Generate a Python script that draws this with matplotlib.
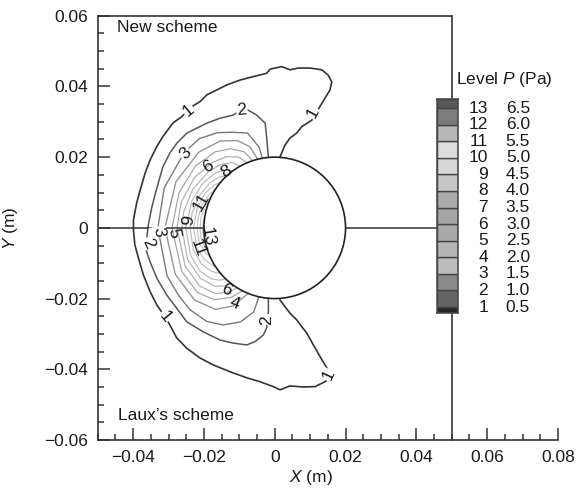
import numpy as np
import matplotlib
matplotlib.use("Agg")
import matplotlib.pyplot as plt
from matplotlib.patches import Circle
from matplotlib.ticker import MultipleLocator, FuncFormatter

plt.rcParams["font.family"] = ["Liberation Sans", "DejaVu Sans"]
plt.rcParams["mathtext.fontset"] = "custom"
plt.rcParams["mathtext.it"] = "Liberation Sans:italic"
plt.rcParams["mathtext.rm"] = "Liberation Sans"

# cylinder radius (m)
cyl_r = 0.02

# contour level 1 and 2 (x, y in m)
lev1_pts = [(0.0015, 0.0201), (0.0029, 0.0234), (0.0043, 0.0254), (0.0062, 0.0268),
            (0.0076, 0.0286), (0.0105, 0.0305), (0.0119, 0.0329), (0.0136, 0.0357),
            (0.0156, 0.0390), (0.0161, 0.0413), (0.0151, 0.0432), (0.0133, 0.0447),
            (0.0100, 0.0452), (0.0066, 0.0452), (0.0043, 0.0447), (0.0020, 0.0456),
            (-0.0013, 0.0449), (-0.0023, 0.0437), (-0.0060, 0.0428), (-0.0098, 0.0418),
            (-0.0136, 0.0404), (-0.0164, 0.0390), (-0.0192, 0.0376), (-0.0211, 0.0357),
            (-0.0234, 0.0343), (-0.0263, 0.0314), (-0.0287, 0.0297), (-0.0316, 0.0258),
            (-0.0333, 0.0230), (-0.0352, 0.0192), (-0.0366, 0.0155), (-0.0380, 0.0107),
            (-0.0390, 0.0070), (-0.0399, 0.0022), (-0.0399, -0.0006), (-0.0395, -0.0048),
            (-0.0385, -0.0085), (-0.0371, -0.0133), (-0.0352, -0.0180), (-0.0333, -0.0218),
            (-0.0310, -0.0251), (-0.0296, -0.0275), (-0.0277, -0.0311), (-0.0249, -0.0340),
            (-0.0211, -0.0368), (-0.0173, -0.0388), (-0.0126, -0.0407), (-0.0079, -0.0424),
            (-0.0042, -0.0435), (-0.0004, -0.0449), (0.0015, -0.0458), (0.0043, -0.0447),
            (0.0080, -0.0450), (0.0114, -0.0449), (0.0142, -0.0435), (0.0161, -0.0421),
            (0.0147, -0.0396), (0.0128, -0.0364), (0.0109, -0.0331), (0.0090, -0.0297),
            (0.0076, -0.0279), (0.0062, -0.0260), (0.0043, -0.0241), (0.0029, -0.0223),
            (0.0015, -0.0204)]

lev2_pts = [(-0.0018, 0.0201), (-0.0023, 0.0258), (-0.0027, 0.0296), (-0.0051, 0.0319),
            (-0.0075, 0.0333), (-0.0093, 0.0335), (-0.0117, 0.0319), (-0.0155, 0.0310),
            (-0.0192, 0.0296), (-0.0220, 0.0282), (-0.0248, 0.0268), (-0.0276, 0.0240),
            (-0.0296, 0.0212), (-0.0316, 0.0172), (-0.0332, 0.0116), (-0.0347, 0.0059),
            (-0.0358, 0.0003), (-0.0362, -0.0040), (-0.0362, -0.0067), (-0.0352, -0.0096),
            (-0.0333, -0.0142), (-0.0305, -0.0190), (-0.0277, -0.0227), (-0.0249, -0.0265),
            (-0.0202, -0.0294), (-0.0155, -0.0317), (-0.0117, -0.0326), (-0.0079, -0.0331),
            (-0.0056, -0.0322), (-0.0032, -0.0303), (-0.0023, -0.0283), (-0.0020, -0.0260),
            (-0.0018, -0.0237), (-0.0018, -0.0199)]

# inner levels 3..13 as (angle in deg, radius in m)
lev3_deg = [100, 101, 106, 114, 121, 130, 140, 160, 180, 204, 215, 224, 234, 242, 250, 256, 257]
lev3_r = [0.0200, 0.0233, 0.0279, 0.0296, 0.0314, 0.0330, 0.0333, 0.0332, 0.0330, 0.0333,
          0.0332, 0.0333, 0.0327, 0.0311, 0.0283, 0.0245, 0.0200]
lev4_deg = [104, 107, 113, 122, 135, 155, 180, 205, 222, 234, 242, 248]
lev4_r = [0.0200, 0.0240, 0.0268, 0.0290, 0.0303, 0.0308, 0.0310, 0.0310, 0.0305, 0.0285, 0.0250, 0.0200]
lev5_deg = [108, 112, 119, 128, 142, 160, 180, 205, 220, 230, 238, 243]
lev5_r = [0.0200, 0.0232, 0.0256, 0.0273, 0.0284, 0.0288, 0.0290, 0.0290, 0.0285, 0.0265, 0.0232, 0.0200]
lev6_deg = [113, 117, 124, 134, 148, 165, 180, 203, 218, 228, 234, 238]
lev6_r = [0.0200, 0.0225, 0.0243, 0.0256, 0.0268, 0.0274, 0.0276, 0.0275, 0.0268, 0.0250, 0.0225, 0.0200]
lev7_deg = [119, 123, 130, 140, 155, 170, 180, 200, 214, 224, 229, 232]
lev7_r = [0.0200, 0.0220, 0.0235, 0.0246, 0.0256, 0.0261, 0.0262, 0.0262, 0.0254, 0.0237, 0.0218, 0.0200]
lev8_deg = [126, 130, 137, 148, 162, 180, 198, 210, 219, 224, 226]
lev8_r = [0.0200, 0.0215, 0.0228, 0.0239, 0.0246, 0.0251, 0.0250, 0.0244, 0.0230, 0.0213, 0.0200]
lev9_deg = [133, 137, 145, 156, 170, 180, 195, 206, 214, 218, 220]
lev9_r = [0.0200, 0.0212, 0.0223, 0.0231, 0.0237, 0.0239, 0.0238, 0.0231, 0.0218, 0.0207, 0.0200]
lev10_deg = [140, 145, 153, 165, 180, 195, 204, 210, 213]
lev10_r = [0.0200, 0.0210, 0.0219, 0.0226, 0.0229, 0.0227, 0.0218, 0.0207, 0.0200]
lev11_deg = [148, 153, 162, 172, 180, 192, 200, 205]
lev11_r = [0.0200, 0.0208, 0.0215, 0.0218, 0.0219, 0.0217, 0.0208, 0.0200]
lev12_deg = [158, 163, 172, 180, 188, 195, 198]
lev12_r = [0.0200, 0.0206, 0.0210, 0.0211, 0.0210, 0.0205, 0.0200]
lev13_deg = [170, 175, 182, 188, 192]
lev13_r = [0.0200, 0.0203, 0.0204, 0.0203, 0.0200]

line_colors = ["#333333", "#555555", "#7a7a7a", "#959595", "#a2a2a2", "#adadad", "#b3b3b3",
               "#b8b8b8", "#bcbcbc", "#c0c0c0", "#c4c4c4", "#c8c8c8", "#cccccc"]

# contour labels: text, x, y, rotation
lab_text = ["1", "1", "1", "1", "2", "2", "2", "3", "3", "5", "6", "8", "11", "9", "13", "11", "6", "4"]
lab_x = [0.0108, -0.0244, -0.0310, 0.0151, -0.0093, -0.0358, -0.0023, -0.0253, -0.0329, -0.0287,
         -0.0188, -0.0136, -0.0206, -0.0244, -0.0188, -0.0217, -0.0136, -0.0112]
lab_y = [0.0325, 0.0333, -0.0251, -0.0416, 0.0333, -0.0043, -0.0260, 0.0211, -0.0012, -0.0014,
         0.0173, 0.0159, 0.0074, 0.0022, -0.0025, -0.0057, -0.0176, -0.0213]
lab_rot = [62, 40, -50, 65, 5, -65, 90, 45, -80, -80, 30, 30, 60, 80, -80, -70, -25, -20]

# legend
leg_levels = list(range(1, 14))
leg_values = ["0.5", "1.0", "1.5", "2.0", "2.5", "3.0", "3.5", "4.0", "4.5", "5.0", "5.5", "6.0", "6.5"]
band_colors = ["#262626", "#646464", "#8a8a8a", "#bcbcbc", "#b6b6b6", "#a9a9a9", "#a6a6a6",
               "#ababab", "#c6c6c6", "#d8d8d8", "#dcdcdc", "#b8b8b8", "#7c7c7c", "#595959"]

fs = 12.5
fig = plt.figure(figsize=(5.78, 4.99), dpi=100)
ax = fig.add_axes([0.169, 0.1182, 0.7964, 0.8503])
ax.set_xlim(-0.05, 0.08)
ax.set_ylim(-0.06, 0.06)

dark = "#333333"
for s in ["top", "right"]:
    ax.spines[s].set_visible(False)
for s in ["left", "bottom"]:
    ax.spines[s].set_color(dark)
    ax.spines[s].set_linewidth(1.2)

ax.xaxis.set_major_locator(MultipleLocator(0.02))
ax.yaxis.set_major_locator(MultipleLocator(0.02))
ax.xaxis.set_minor_locator(MultipleLocator(0.005))
ax.yaxis.set_minor_locator(MultipleLocator(0.005))


def fmt(v, pos):
    if abs(v) < 1e-9:
        return "0"
    s = f"{abs(v):.2f}"
    return ("\u2212" + s) if v < 0 else s


ax.xaxis.set_major_formatter(FuncFormatter(fmt))
ax.yaxis.set_major_formatter(FuncFormatter(fmt))
ax.set_xticks(np.arange(-0.04, 0.0801, 0.02))
ax.tick_params(which="both", direction="in", color=dark, width=1.1, labelsize=fs,
               labelcolor="#1a1a1a", top=False, right=False)
ax.tick_params(which="major", length=8.5, pad=7)
ax.tick_params(which="minor", length=4.5)

ax.set_xlabel("$X$ (m)", fontsize=fs, color="#1a1a1a")
ax.set_ylabel("$Y$ (m)", fontsize=fs, color="#1a1a1a")
ax.xaxis.set_label_coords(0.463, -0.066)
ax.yaxis.set_label_coords(-0.168, 0.5)

# frame pieces
ax.plot([-0.05, 0.05], [0.06, 0.06], color=dark, lw=1.2, clip_on=False, zorder=3)
ax.plot([0.05, 0.05], [-0.06, 0.06], color=dark, lw=1.2, clip_on=False, zorder=3)
ax.plot([-0.05, -cyl_r], [0, 0], color=dark, lw=1.1, zorder=3)
ax.plot([cyl_r, 0.05], [0, 0], color=dark, lw=1.1, zorder=3)
ax.add_patch(Circle((0, 0), cyl_r, fill=False, edgecolor="#222222", lw=1.2, zorder=4))

# contour lines
p1 = np.array(lev1_pts)
p2 = np.array(lev2_pts)
ax.plot(p1[:, 0], p1[:, 1], color=line_colors[0], lw=1.2, zorder=2)
ax.plot(p2[:, 0], p2[:, 1], color=line_colors[1], lw=1.1, zorder=2)

inner = [(lev3_deg, lev3_r), (lev4_deg, lev4_r), (lev5_deg, lev5_r), (lev6_deg, lev6_r),
         (lev7_deg, lev7_r), (lev8_deg, lev8_r), (lev9_deg, lev9_r), (lev10_deg, lev10_r),
         (lev11_deg, lev11_r), (lev12_deg, lev12_r), (lev13_deg, lev13_r)]
for i, (deg, r) in enumerate(inner):
    th = np.radians(deg)
    r = np.array(r)
    ax.plot(r * np.cos(th), r * np.sin(th), color=line_colors[i + 2],
            lw=1.0 if i < 2 else 0.85, zorder=2)

for i, t in enumerate(lab_text):
    kw = {}
    if t in ("1", "2", "3"):
        kw["bbox"] = dict(boxstyle="square,pad=0.05", fc="white", ec="none")
    ax.text(lab_x[i], lab_y[i], t, rotation=lab_rot[i], ha="center", va="center",
            fontsize=fs, color="#1a1a1a", zorder=5, rotation_mode="anchor", **kw)

ax.text(-0.0445, 0.0568, "New scheme", fontsize=fs, va="center", ha="left", color="#1a1a1a")
ax.text(-0.0442, -0.0532, "Laux\u2019s scheme", fontsize=fs, va="center", ha="left", color="#1a1a1a")

# legend bar
lax = fig.add_axes([0.7555, 0.3727, 0.0374, 0.4283])
lax.set_xlim(0, 1)
lax.set_ylim(0.638, 13.525)
edges = [0.638] + leg_levels + [13.525]
for k in range(len(band_colors)):
    lax.bar(0.5, edges[k + 1] - edges[k], bottom=edges[k], width=1.0, color=band_colors[k],
            edgecolor="#444444", linewidth=1.0)
lax.set_xticks([])
lax.set_yticks([])
for s in lax.spines.values():
    s.set_color("#444444")
    s.set_linewidth(1.1)
for k, lv in enumerate(leg_levels):
    lax.text(2.375, lv, str(lv), ha="right", va="center", fontsize=fs, color="#1a1a1a",
             transform=lax.get_yaxis_transform(), clip_on=False)
    lax.text(4.32, lv, leg_values[k], ha="right", va="center", fontsize=fs, color="#1a1a1a",
             transform=lax.get_yaxis_transform(), clip_on=False)
lax.text(0.88, 14.69, "Level $P$ (Pa)", ha="left", va="center", fontsize=fs, color="#1a1a1a",
         transform=lax.get_yaxis_transform(), clip_on=False)

fig.savefig("out.png", dpi=100)
